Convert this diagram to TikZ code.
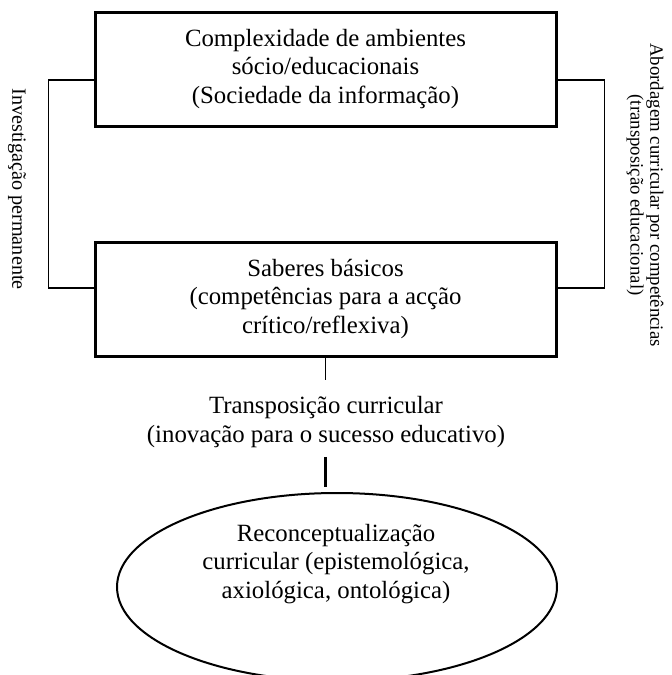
\documentclass[tikz,border=0pt]{standalone}
\usepackage{fontspec}
\setmainfont{Liberation Serif}
\usetikzlibrary{shapes.geometric}

\tikzset{
    textbox/.style={draw, line width=1.5pt, minimum width=230.5pt, minimum height=57pt,
        align=center, font=\fontsize{12.4}{14.3}\selectfont},
    plaintext/.style={align=center, inner sep=0pt, font=\fontsize{12.4}{14.3}\selectfont},
    sidenote/.style={rotate=-90, align=center, inner sep=0pt},
    link/.style={line width=0.8pt},
    thicklink/.style={line width=1.5pt}
}

\begin{document}
\begin{tikzpicture}[x=0.5pt, y=-0.5pt]
        \useasboundingbox (0,0) rectangle (672,675);
        \node[textbox] (ambientes) at (325.5,69)
            {Complexidade de ambientes\\sócio/educacionais\\(Sociedade da informação)};
        \node[textbox] (saberes) at (325.5,299)
            {Saberes básicos\\(competências para a acção\\crítico/reflexiva)};
        \node[plaintext] (transp) at (326,422)
            {Transposição curricular\\(inovação para o sucesso educativo)};
        \node[draw, ellipse, line width=1pt, minimum width=220pt, minimum height=94pt]
            (reconc) at (337,587) {};
        \node[plaintext] (reconctext) at (336,564)
            {Reconceptualização\\curricular (epistemológica,\\axiológica, ontológica)};
        \node[sidenote, font=\fontsize{10.1}{12}\selectfont] (invest) at (17,189)
            {Investigação permanente};
        \node[sidenote, font=\fontsize{9.4}{9.8}\selectfont] (abord) at (645,195)
            {Abordagem curricular por competências\\(transposição educacional)};
        \draw[link] ([yshift=-5.5pt]ambientes.west) -- ++(-45,0) |- ([yshift=5.5pt]saberes.west);
        \draw[link] ([yshift=-5.5pt]ambientes.east) -- ++(47,0) |- ([yshift=5.5pt]saberes.east);
        \draw[link, shorten >=8pt] (saberes.south) -- (saberes.south |- transp.north);
        \draw[thicklink, shorten <=4.5pt, shorten >=2.5pt] (saberes.south |- transp.south) -- (saberes.south |- reconc.north);
    \end{tikzpicture}
\end{document}
